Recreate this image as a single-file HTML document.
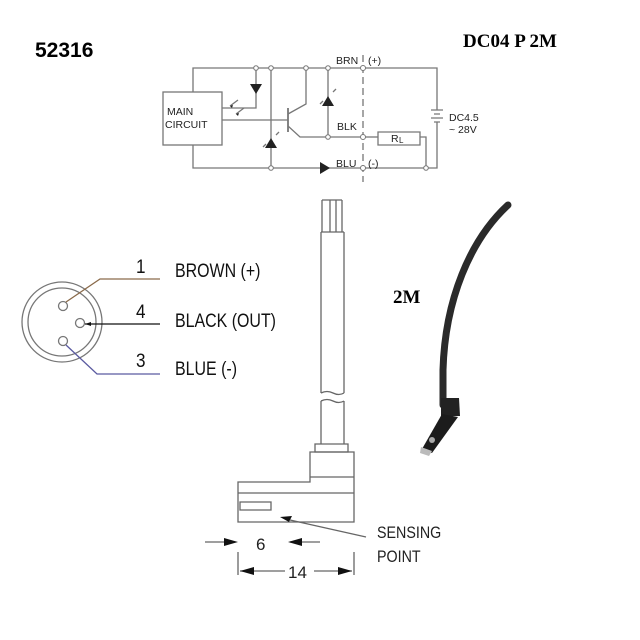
<!DOCTYPE html>
<html><head><meta charset="utf-8"><style>
html,body{margin:0;padding:0;background:#fff;}
svg{display:block;}
.t{font-family:"Liberation Sans",Arial,sans-serif;}
.s{font-family:"Liberation Serif",serif;font-weight:bold;}
</style></head><body>
<svg width="640" height="640" viewBox="0 0 640 640" xmlns="http://www.w3.org/2000/svg">
<rect width="640" height="640" fill="#fff"/>
<text x="35" y="57" class="t" font-weight="bold" font-size="21" fill="#000">52316</text>
<text x="463" y="47" class="s" font-size="19" fill="#000">DC04 P 2M</text>

<!-- circuit -->
<g stroke="#777" stroke-width="1.3" fill="none">
<path d="M193 92V68H437V168H193V145"/>
<rect x="163" y="92" width="59" height="53"/>
<path d="M222 108H256V68"/>
<path d="M271 68V168"/>
<path d="M222 120H288"/>
<path d="M288 108V132" stroke-width="1.8"/>
<path d="M288 114L306 104V68"/>
<path d="M288 126L300 137H363"/>
<path d="M328 68V137"/>
<path d="M378 132H420V145H378Z"/>
<path d="M363 137H378"/>
<path d="M420 137H426V168"/>
<path d="M363 55V182" stroke-dasharray="7,4"/>
<path d="M238 100L230 106M244 108L236 114"/>
<path d="M323 101L320 104M333 92L336 89M266 144L263 147M276 135L279 132"/>
</g>
<rect x="425" y="106" width="24" height="24" fill="#fff"/>
<g stroke="#777" stroke-width="1.3">
<path d="M431 110H443M434 114H440M431 118H443M434 122H440"/>
<path d="M437 106V110M437 122V130"/>
</g>
<g fill="#222">
<path d="M250 84H262L256 94Z"/>
<path d="M322 106H334L328 96Z"/>
<path d="M265 148H277L271 138Z"/>
<path d="M320 162V174L330 168Z"/>
<path d="M230 106l3 -1 -1 3zM236 114l3 -1 -1 3z"/>
</g>
<g fill="#fff" stroke="#777" stroke-width="1">
<circle cx="256" cy="68" r="2.3"/><circle cx="271" cy="68" r="2.3"/><circle cx="306" cy="68" r="2.3"/><circle cx="328" cy="68" r="2.3"/><circle cx="363" cy="68" r="2.5"/>
<circle cx="328" cy="137" r="2.3"/><circle cx="363" cy="137" r="2.5"/><circle cx="271" cy="168" r="2.3"/><circle cx="363" cy="168" r="2.5"/><circle cx="426" cy="168" r="2.3"/>
</g>
<g class="t" font-size="10.5" fill="#222">
<text x="167" y="115">MAIN</text><text x="165" y="128">CIRCUIT</text>
<text x="336" y="64">BRN</text><text x="368" y="64">(+)</text>
<text x="337" y="130">BLK</text><text x="391" y="142">R</text><text x="399" y="143" font-size="8">L</text>
<text x="336" y="167">BLU</text><text x="368" y="167">(-)</text>
<text x="449" y="121">DC4.5</text><text x="449" y="133">~ 28V</text>
</g>

<!-- connector -->
<g fill="none" stroke="#777" stroke-width="1.3">
<circle cx="62" cy="322" r="40"/><circle cx="62" cy="322" r="34"/>
<circle cx="63" cy="306" r="4.5"/><circle cx="80" cy="323" r="4.5"/><circle cx="63" cy="341" r="4.5"/>
</g>
<path d="M66 302L100 279H160" stroke="#8a6a4a" stroke-width="1.3" fill="none"/>
<path d="M85 324H160" stroke="#111" stroke-width="1.3"/>
<path d="M85 324l6 -2v4z" fill="#111"/>
<path d="M66 345L97 374H160" stroke="#5a5aa0" stroke-width="1.3" fill="none"/>
<g class="t" font-size="19" fill="#111">
<text x="136" y="273" transform="translate(136 0) scale(0.9 1) translate(-136 0)">1</text>
<text x="136" y="318" transform="translate(136 0) scale(0.9 1) translate(-136 0)">4</text>
<text x="136" y="367" transform="translate(136 0) scale(0.9 1) translate(-136 0)">3</text>
<text x="175" y="277" transform="translate(175 0) scale(0.84 1) translate(-175 0)">BROWN (+)</text>
<text x="175" y="327" transform="translate(175 0) scale(0.84 1) translate(-175 0)">BLACK (OUT)</text>
<text x="175" y="375" transform="translate(175 0) scale(0.84 1) translate(-175 0)">BLUE (-)</text>
</g>

<!-- cable drawing -->
<g fill="none" stroke="#666" stroke-width="1.3">
<path d="M322 200V232M330 200V232M336 200V232M342 200V232M322 200H342"/>
<path d="M321 232H344"/>
<path d="M321 232V393M344 232V393"/>
<path d="M321 393q6 -3 12 0t11 0M321 401q6 -3 12 0t11 0"/>
<path d="M321 401V444M344 401V444"/>
<path d="M315 444H348V452H315Z"/>
<path d="M310 452H354V522H238V482H310Z"/>
<path d="M310 477H354"/>
<path d="M238 493H354"/>
<path d="M240 502H271V510H240Z"/>
<path d="M366 537L290 520"/>
<path d="M238 552V575M354 552V575"/>
<path d="M205 542H232M290 542H320"/>
<path d="M240 571H285M314 571H352"/>
</g>
<g fill="#111">
<path d="M280 517l12 -1 -3 6z"/>
<path d="M238 542l-14 -4v8z"/>
<path d="M288 542l14 -4v8z"/>
<path d="M240 571l14 -4v8z"/>
<path d="M352 571l-14 -4v8z"/>
</g>
<g class="t" font-size="17" fill="#222">
<text x="377" y="538" transform="translate(377 0) scale(0.84 1) translate(-377 0)">SENSING</text>
<text x="377" y="562" transform="translate(377 0) scale(0.84 1) translate(-377 0)">POINT</text>
<text x="256" y="550">6</text>
<text x="288" y="578">14</text>
</g>

<!-- photo -->
<path d="M508 205C470 240 445 300 443 370L443 405" stroke="#2a2a2a" stroke-width="7" fill="none" stroke-linecap="round"/>
<path d="M441 398h18l1 18h-19z" fill="#222"/>
<path d="M442 414l16 3 -26 36 -10 -4z" fill="#1c1c1c"/>
<path d="M421 447l11 4 -3 5 -9 -3z" fill="#bbb"/>
<circle cx="432" cy="440" r="3" fill="#aaa"/>
<text x="393" y="303" class="s" font-size="19" fill="#000">2M</text>
</svg>
</body></html>
